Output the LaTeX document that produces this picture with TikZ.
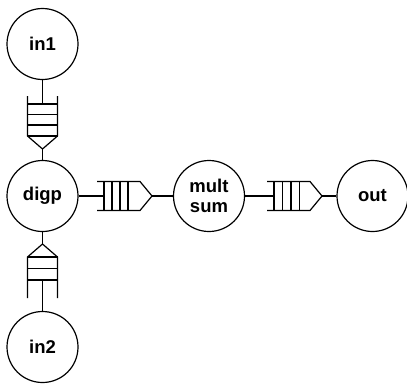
\documentclass[tikz,border=0pt]{standalone}
\usepackage{fontspec}
\setmainfont{Liberation Sans}
\begin{document}
\begin{tikzpicture}[x=1pt,y=-1pt,
  proc/.style={circle,draw,line width=1.2pt,minimum size=71pt,inner sep=0pt,
    font=\fontsize{18.5}{19.5}\selectfont\bfseries,align=center},
  qline/.style={line width=1.2pt},
  link/.style={line width=1.2pt}]
\useasboundingbox (0,0) rectangle (407,383);

% processes
\node[proc] (in1)  at (42.5,44)  {in1};
\node[proc] (digp) at (42.5,196) {digp};
\node[proc] (in2)  at (42.5,347) {in2};
\node[proc] (mult) at (209,196)  {mult\\sum};
\node[proc] (out)  at (372.5,196) {out};

% queue in1 -> digp (vertical, pointing down)
\draw[qline] (27.5,96) -- (27.5,136) -- (42.5,149) -- (57.5,136) -- (57.5,96);
\foreach \y in {104,114.5,125,136} \draw[qline] (27.5,\y) -- (57.5,\y);
\coordinate (q1in) at (42.5,104);
\coordinate (q1out) at (42.5,149);

% queue in2 -> digp (vertical, pointing up)
\draw[qline] (27.5,298) -- (27.5,257) -- (42.5,244) -- (57.5,257) -- (57.5,298);
\foreach \y in {257,268.5,280} \draw[qline] (27.5,\y) -- (57.5,\y);
\coordinate (q2in) at (42.5,280);
\coordinate (q2out) at (42.5,244);

% queue digp -> mult sum
\draw[qline] (97,181.5) -- (140,181.5) -- (152,196) -- (140,210.5) -- (97,210.5);
\foreach \x in {104,112,120,128} \draw[qline] (\x,181.5) -- (\x,210.5);
\coordinate (q3in) at (104,196);
\coordinate (q3out) at (152,196);

% queue mult sum -> out
\draw[qline] (267,181.5) -- (310,181.5) -- (322,196) -- (310,210.5) -- (267,210.5);
\foreach \x in {274,282.5,291,299.5} \draw[qline] (\x,181.5) -- (\x,210.5);
\coordinate (q4in) at (274,196);
\coordinate (q4out) at (322,196);

% connections
\draw[link] (in1) -- (q1in);
\draw[link] (q1out) -- (digp);
\draw[link] (in2) -- (q2in);
\draw[link] (q2out) -- (digp);
\draw[link] (digp) -- (q3in);
\draw[link] (q3out) -- (mult);
\draw[link] (mult) -- (q4in);
\draw[link] (q4out) -- (out);
\end{tikzpicture}
\end{document}
